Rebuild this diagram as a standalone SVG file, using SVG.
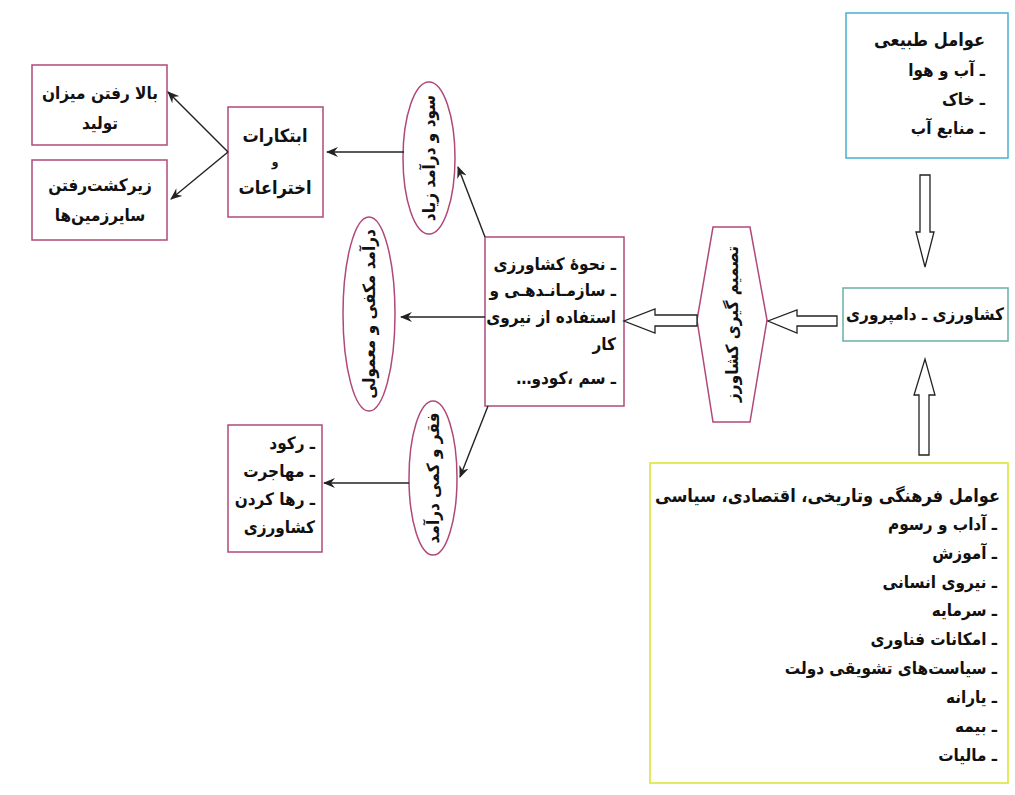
<svg xmlns="http://www.w3.org/2000/svg" width="1015" height="795" viewBox="0 0 1015 795">
<style>
text{font-family:"DejaVu Sans Condensed","DejaVu Sans",sans-serif;font-stretch:condensed;font-weight:bold;font-size:17px;fill:#111;}
.r{direction:rtl;text-anchor:start;}
.c{text-anchor:middle;}
.pink{fill:#fff;stroke:#b0487a;stroke-width:1.5;}
.blue{fill:#fff;stroke:#4aaed0;stroke-width:1.5;}
.teal{fill:#fff;stroke:#6aaea6;stroke-width:1.5;}
.yel{fill:#fff;stroke:#e2e84e;stroke-width:1.8;}
.ln{stroke:#222;stroke-width:1.4;fill:none;}
.hol{fill:#fff;stroke:#222;stroke-width:1.3;stroke-linejoin:miter;}
</style>
<defs>
<marker id="ah" viewBox="0 0 12 10" refX="11" refY="5" markerWidth="12" markerHeight="10" markerUnits="userSpaceOnUse" orient="auto">
<path d="M0,0 L12,5 L0,10 L4,5 Z" fill="#222"/>
</marker>
</defs>
<rect width="1015" height="795" fill="#fff"/>

<g id="n-natural">
<rect class="blue" x="846" y="13" width="162" height="145"/>
<text class="r" x="985" y="46" style="font-size:18px">عوامل طبیعی</text>
<text class="r" x="985" y="76">ـ آب و هوا</text>
<text class="r" x="985" y="105">ـ خاک</text>
<text class="r" x="985" y="134">ـ منابع آب</text>
</g>

<g id="n-farming">
<rect class="teal" x="843" y="288" width="165" height="53"/>
<text class="c" x="925" y="320">کشاورزی ـ دامپروری</text>
</g>

<g id="n-cultural">
<rect class="yel" x="650" y="463" width="358" height="320"/>
<text class="r" x="1000" y="502" style="font-size:18px">عوامل فرهنگی وتاریخی، اقتصادی،  سیاسی</text>
<text class="r" x="997" y="530">ـ آداب و رسوم</text>
<text class="r" x="997" y="559">ـ آموزش</text>
<text class="r" x="997" y="588">ـ نیروی انسانی</text>
<text class="r" x="997" y="616">ـ سرمایه</text>
<text class="r" x="997" y="645">ـ امکانات فناوری</text>
<text class="r" x="997" y="674">ـ سیاست‌های تشویقی دولت</text>
<text class="r" x="997" y="703">ـ یارانه</text>
<text class="r" x="997" y="732">ـ بیمه</text>
<text class="r" x="997" y="761">ـ مالیات</text>
</g>

<g id="n-decision">
<polygon class="pink" points="713,227 750,227 767,320 750,422 713,422 697,320"/>
<text class="c" transform="translate(732,324) rotate(-90)" y="6">تصمیم گیری کشاورز</text>
</g>

<g id="n-methods">
<rect class="pink" x="485" y="237" width="139" height="169"/>
<text class="r" x="616" y="270">ـ نحوهٔ کشاورزی</text>
<text class="r" x="616" y="296">ـ سازمـانـدهـی و</text>
<text class="r" x="616" y="323">استفاده از نیروی</text>
<text class="r" x="616" y="350">کار</text>
<text class="r" x="616" y="384">ـ سم ،کودو…</text>
</g>

<g id="n-profit">
<ellipse class="pink" cx="429" cy="158" rx="26" ry="76"/>
<text class="c" transform="translate(429,158) rotate(-90)" y="6">سود و درآمد زیاد</text>
</g>

<g id="n-sufficient">
<ellipse class="pink" cx="369" cy="314" rx="26" ry="97"/>
<text class="c" transform="translate(369,314) rotate(-90)" y="6">درآمد مکفی و معمولی</text>
</g>

<g id="n-poverty">
<ellipse class="pink" cx="433" cy="478" rx="24" ry="77"/>
<text class="c" transform="translate(433,478) rotate(-90)" y="6">فقر و کمی درآمد</text>
</g>

<g id="n-innovation">
<rect class="pink" x="228" y="107" width="95" height="110"/>
<text class="c" x="275" y="142" style="font-size:18px">ابتکارات</text>
<text class="c" x="275" y="166" style="font-size:12px">و</text>
<text class="c" x="275" y="194" style="font-size:18px">اختراعات</text>
</g>

<g id="n-production">
<rect class="pink" x="32" y="65" width="135" height="80"/>
<text class="c" x="100" y="99">بالا رفتن میزان</text>
<text class="c" x="100" y="129">تولید</text>
</g>

<g id="n-cultivation">
<rect class="pink" x="32" y="160" width="135" height="80"/>
<text class="c" x="100" y="191">زیرکشت‌رفتن</text>
<text class="c" x="100" y="221">سایرزمین‌ها</text>
</g>

<g id="n-stagnation">
<rect class="pink" x="228" y="425" width="94" height="127"/>
<text class="r" x="315" y="449">ـ رکود</text>
<text class="r" x="315" y="477">ـ مهاجرت</text>
<text class="r" x="315" y="505">ـ رها کردن</text>
<text class="r" x="315" y="533">کشاورزی</text>
</g>

<g id="connectors">
<path class="hol" d="M920,175 L930,175 L930,232 L934,232 L925,267 L916,232 L920,232 Z"/>
<path class="hol" d="M919,455 L929,455 L929,395 L935,395 L925,359 L914,395 L919,395 Z"/>
<path class="hol" d="M837,316 L837,326 L797,326 L797,333 L768,321 L797,310 L797,316 Z"/>
<path class="hol" d="M697,315 L697,326 L655,326 L655,333 L624,321 L655,309 L655,315 Z"/>
<line class="ln" x1="485" y1="237" x2="458" y2="167" marker-end="url(#ah)"/>
<line class="ln" x1="485" y1="317" x2="401" y2="317" marker-end="url(#ah)"/>
<line class="ln" x1="488" y1="406" x2="460" y2="477" marker-end="url(#ah)"/>
<line class="ln" x1="404" y1="152" x2="327" y2="152" marker-end="url(#ah)"/>
<line class="ln" x1="228" y1="152" x2="168" y2="92" marker-end="url(#ah)"/>
<line class="ln" x1="228" y1="152" x2="171" y2="199" marker-end="url(#ah)"/>
<line class="ln" x1="409" y1="483" x2="324" y2="483" marker-end="url(#ah)"/>
</g>
</svg>
